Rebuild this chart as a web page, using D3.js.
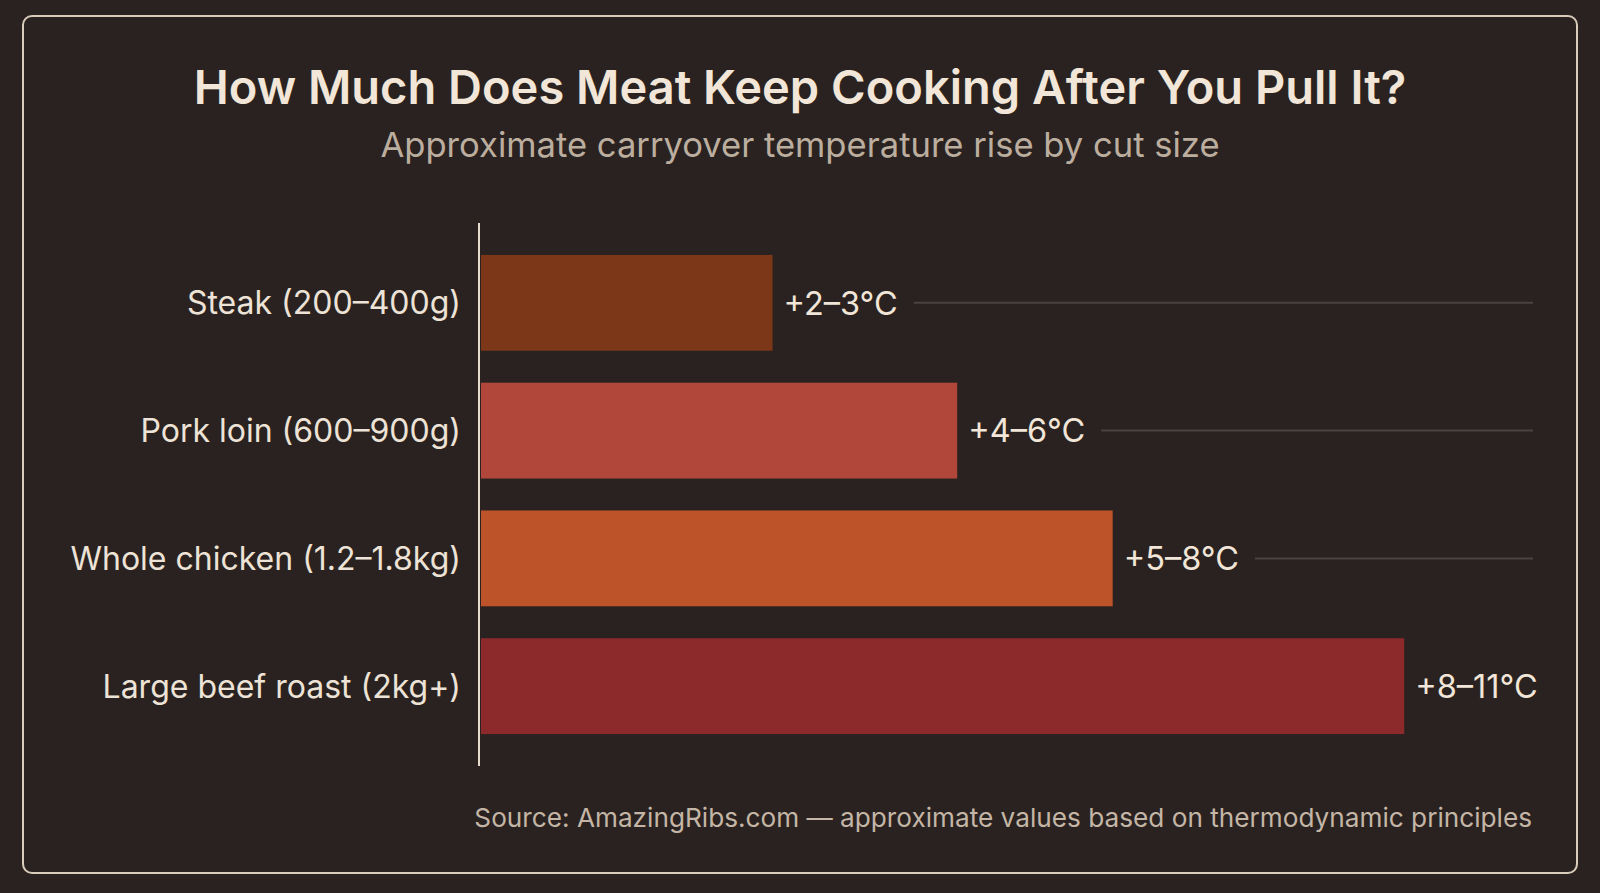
<!DOCTYPE html>
<html>
<head>
<meta charset="utf-8">
<script src="https://cdn.jsdelivr.net/npm/d3@7/dist/d3.min.js"></script>
<style>
  html, body { margin: 0; padding: 0; background: #2a2220; }
  svg { display: block; font-family: Inter, "Noto Sans", sans-serif; }
</style>
</head>
<body>
<div id="chart"></div>
<script>
// chart data
var cuts = ["Steak (200–400g)", "Pork loin (600–900g)", "Whole chicken (1.2–1.8kg)", "Large beef roast (2kg+)"];
var riseLow = [2, 4, 5, 8];
var riseHigh = [3, 6, 8, 11];
var barValue = [3, 4.9, 6.5, 9.5];
var barColors = ["#7b3718", "#b0473a", "#bd5329", "#8c2a2b"];

var W = 1600, H = 893;

var svg = d3.select("#chart")
    .append("svg")
    .attr("width", W)
    .attr("height", H);

svg.append("rect")
    .attr("width", W).attr("height", H)
    .attr("fill", "#2a2220");

// outer frame
svg.append("rect")
    .attr("x", 23).attr("y", 16)
    .attr("width", 1554).attr("height", 857)
    .attr("rx", 9)
    .attr("fill", "#2a2220")
    .attr("stroke", "#d9ccba")
    .attr("stroke-width", 2);

svg.append("text")
    .attr("x", 800).attr("y", 104)
    .attr("text-anchor", "middle")
    .attr("fill", "#f1e6d8")
    .attr("font-size", 47)
    .attr("font-weight", 600)
    .text("How Much Does Meat Keep Cooking After You Pull It?");

svg.append("text")
    .attr("x", 800).attr("y", 157)
    .attr("text-anchor", "middle")
    .attr("fill", "#bcae9f")
    .attr("font-size", 34.6)
    .text("Approximate carryover temperature rise by cut size");

var left = 481, gridEnd = 1533;

var x = d3.scaleLinear()
    .domain([0, 11])
    .range([left, left + 1069]);

var y = d3.scaleBand()
    .domain(cuts)
    .range([223, 766])
    .paddingInner(0.25)
    .paddingOuter(0.25);

var rows = svg.selectAll("g.row")
    .data(cuts)
    .enter().append("g")
    .attr("class", "row");

// value labels, to find where each grid line starts
var vals = rows.append("text")
    .attr("x", function(d, i) { return x(barValue[i]) + 11; })
    .attr("y", function(d) { return y(d) + y.bandwidth() / 2; })
    .attr("dy", "0.36em")
    .attr("fill", "#f1e6d8")
    .attr("font-size", 32.5)
    .text(function(d, i) { return "+" + riseLow[i] + "–" + riseHigh[i] + "°C"; });

vals.each(function(d, i) {
    var end = this.getComputedTextLength() + x(barValue[i]) + 11 + 16;
    if (end < gridEnd) {
        svg.insert("line", "g.row")
            .attr("x1", end).attr("x2", gridEnd)
            .attr("y1", y(d) + y.bandwidth() / 2)
            .attr("y2", y(d) + y.bandwidth() / 2)
            .attr("stroke", "#4a4240")
            .attr("stroke-width", 2);
    }
});

rows.append("rect")
    .attr("x", x(0))
    .attr("y", function(d) { return y(d); })
    .attr("width", function(d, i) { return x(barValue[i]) - x(0); })
    .attr("height", y.bandwidth())
    .attr("fill", function(d, i) { return barColors[i]; });

rows.append("text")
    .attr("x", left - 20)
    .attr("y", function(d) { return y(d) + y.bandwidth() / 2; })
    .attr("dy", "0.36em")
    .attr("text-anchor", "end")
    .attr("fill", "#ede3d6")
    .attr("font-size", 32)
    .text(function(d) { return d; });

// axis line
svg.append("line")
    .attr("x1", 479).attr("x2", 479)
    .attr("y1", 223).attr("y2", 766)
    .attr("stroke", "#e6dccd")
    .attr("stroke-width", 2);

svg.append("text")
    .attr("x", 1532).attr("y", 827)
    .attr("text-anchor", "end")
    .attr("fill", "#c4b6a6")
    .attr("font-size", 26.2)
    .text("Source: AmazingRibs.com — approximate values based on thermodynamic principles");
</script>
</body>
</html>
